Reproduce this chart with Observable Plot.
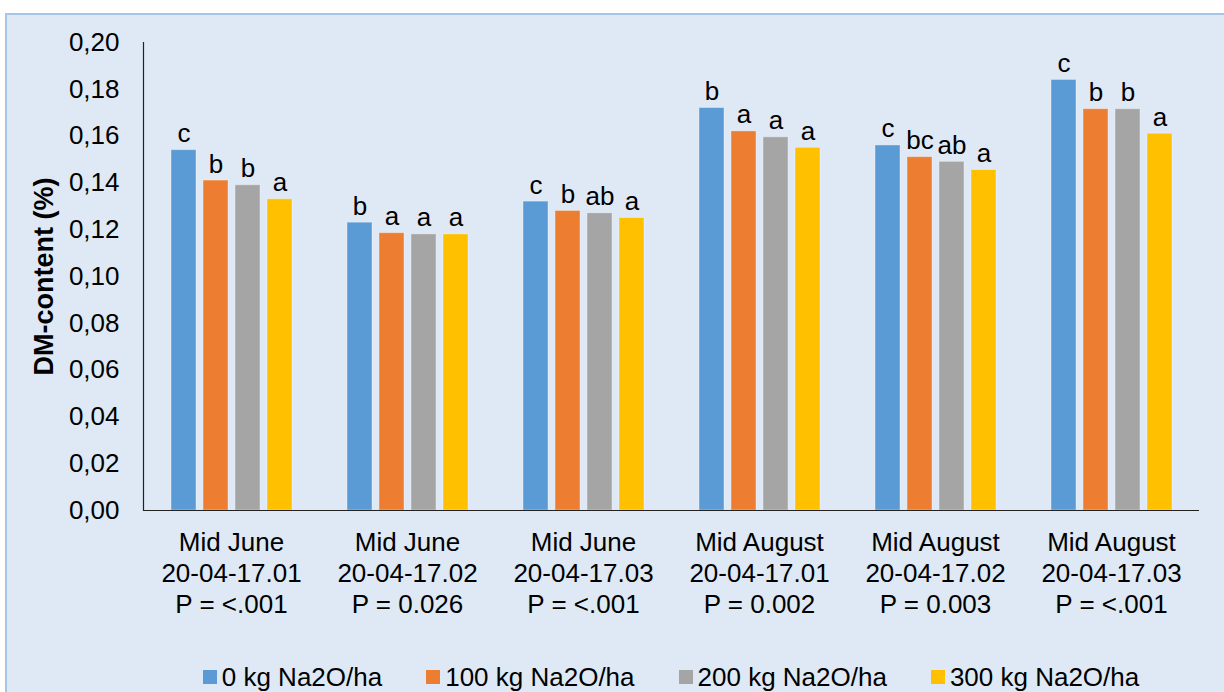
<!DOCTYPE html>
<html><head><meta charset="utf-8">
<script src="https://cdn.jsdelivr.net/npm/d3@7"></script>
<script src="https://cdn.jsdelivr.net/npm/@observablehq/plot@0.6"></script>
<style>
body{margin:0;background:#fff;font-family:Arial,"Liberation Sans",sans-serif;}
#frame{position:absolute;left:5px;top:13px;width:1225px;height:690px;background:#dee9f5;border:2px solid #a4c6e8;box-sizing:border-box}
#chart{position:absolute;left:0;top:0}
#chart [aria-label="y-axis label"] text{font-weight:bold;font-size:27px}
#legend{position:absolute;left:143px;width:1056px;top:663px;display:flex;justify-content:center;gap:44px;font-size:26px;line-height:28px;color:#000}
#legend .item{display:flex;align-items:center;gap:5px;white-space:nowrap}
#legend .sw{width:14px;height:14px;display:inline-block}
</style></head>
<body>
<div id="frame"></div>
<div id="chart"></div>
<div id="legend"></div>
<script>
const periods = ["Mid June","Mid June","Mid June","Mid August","Mid August","Mid August"];
const trials = ["20-04-17.01","20-04-17.02","20-04-17.03","20-04-17.01","20-04-17.02","20-04-17.03"];
const pValues = ["P = <.001","P = 0.026","P = <.001","P = 0.002","P = 0.003","P = <.001"];
const treatments = ["0 kg Na2O/ha","100 kg Na2O/ha","200 kg Na2O/ha","300 kg Na2O/ha"];
const colors = ["#5b9bd5","#ed7d31","#a5a5a5","#ffc000"];
const values0 = [0.154, 0.123, 0.132, 0.172, 0.156, 0.184];
const values100 = [0.141, 0.1185, 0.128, 0.162, 0.151, 0.1715];
const values200 = [0.139, 0.118, 0.127, 0.1595, 0.149, 0.1715];
const values300 = [0.133, 0.118, 0.125, 0.155, 0.1455, 0.161];
const letters0 = ["c","b","c","b","c","c"];
const letters100 = ["b","a","b","a","bc","b"];
const letters200 = ["b","a","ab","a","ab","b"];
const letters300 = ["a","a","a","a","a","a"];
const yTicks = [0,0.02,0.04,0.06,0.08,0.10,0.12,0.14,0.16,0.18,0.20];

const groupKeys = periods.map((p,i)=>`${p}\n${trials[i]}\n${pValues[i]}`);
const allValues = [values0, values100, values200, values300];
const allLetters = [letters0, letters100, letters200, letters300];
const data = [];
groupKeys.forEach((g,i)=>treatments.forEach((t,j)=>data.push({group:g, treatment:t, value:allValues[j][i], letter:allLetters[j][i]})));

const font = "Arial, 'Liberation Sans', sans-serif";
const chart = Plot.plot({
  width:1224, height:640,
  marginLeft:143, marginRight:25, marginTop:42, marginBottom:130,
  style:{background:"transparent", fontFamily:font, fontSize:"26px", color:"#000", overflow:"visible"},
  fx:{domain:groupKeys, padding:0, label:null},
  x:{domain:treatments, paddingInner:0.22, paddingOuter:0.86, axis:null},
  y:{domain:[0,0.2], label:null},
  color:{domain:treatments, range:colors},
  marks:[
    Plot.barY(data,{fx:"group", x:"treatment", y:"value", fill:"treatment", stroke:"#ffffff", strokeOpacity:0.35, strokeWidth:1}),
    Plot.text(data,{fx:"group", x:"treatment", y:"value", text:"letter", lineAnchor:"bottom", dy:-8, fontSize:26, fill:"#000"}),
    Plot.ruleY([0],{stroke:"#222", strokeWidth:1.2}),
    Plot.frame({anchor:"left", facetAnchor:"left", stroke:"#222", strokeWidth:1.2}),
    Plot.axisY({ticks:yTicks, tickSize:0, tickPadding:24, fontSize:26, tickFormat:d=>d.toFixed(2).replace(".",","), label:"DM-content (%)", labelAnchor:"center", labelArrow:"none", labelOffset:110}),
    Plot.axisFx({anchor:"bottom", tickSize:0, tickPadding:18, fontSize:26, lineHeight:1.2, label:null})
  ]
});
document.getElementById("chart").appendChild(chart);

const legend = document.getElementById("legend");
treatments.forEach((t,i)=>{
  const item = document.createElement("div");
  item.className = "item";
  const sw = document.createElement("span");
  sw.className = "sw"; sw.style.background = colors[i];
  const tx = document.createElement("span");
  tx.textContent = t;
  item.appendChild(sw); item.appendChild(tx);
  legend.appendChild(item);
});
</script>
</body></html>
